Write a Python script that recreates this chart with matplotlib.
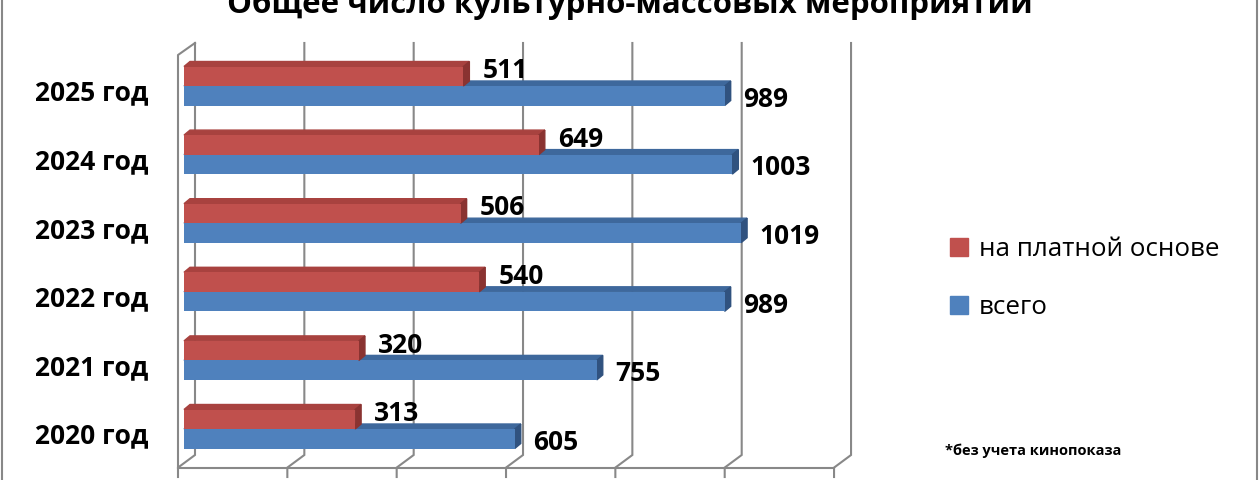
import matplotlib
matplotlib.use('Agg')
import matplotlib.pyplot as plt
from matplotlib.patches import Polygon
from matplotlib.lines import Line2D
from matplotlib.patches import Patch

plt.rcParams['font.family'] = ['Open Sans', 'DejaVu Sans']

# data
title = "Общее число культурно-массовых мероприятий"
years = ["2020 год", "2021 год", "2022 год", "2023 год", "2024 год", "2025 год"]
paid = [313, 320, 540, 506, 649, 511]
total = [605, 755, 989, 1019, 1003, 989]
series_names = ["на платной основе", "всего"]
grid_values = [0, 200, 400, 600, 800, 1000, 1200]
note = "*без учета кинопоказа"

red, red_top, red_side = '#C0504D', '#A8423F', '#8A3331'
blue, blue_top, blue_side = '#4F81BD', '#3E689C', '#30527F'
grid_col = '#888888'

W, H = 1260, 480
PX_X = 0.5467   # px per unit
PX_Y = 68.6     # px per category row

def ux(px):
    return px / PX_X

def uy(px):
    return px / PX_Y

fig = plt.figure(figsize=(W / 100, H / 100), dpi=100)
ax = fig.add_axes([160 / W, 0, 740 / W, 455 / H])
ax.set_xlim(ux(160 - 184), ux(900 - 184))
ax.set_ylim(uy(429 - 480), uy(429 - 25))
for s in ax.spines.values():
    s.set_visible(False)
ax.set_xticks([])
ax.set_yticks([])

ypos = list(range(len(years)))
h = uy(19.5)
dx, dy = ux(6), uy(5)

# back wall grid, floor, left wall
back_dx = ux(11)
back_bot, back_top = -uy(455 - 429), uy(429 - 43)
front_dx = ux(-6)
front_y = -uy(467.6 - 429)
tick_y = -uy(477 - 429)
for v in grid_values:
    ax.plot([v + back_dx, v + back_dx, v + front_dx, v + front_dx],
            [back_top, back_bot, front_y, tick_y], color=grid_col, lw=1.5,
            zorder=1, clip_on=False, solid_joinstyle='miter')
ax.plot([front_dx, grid_values[-1] + front_dx], [front_y, front_y], color=grid_col,
        lw=1.5, zorder=1, clip_on=False)
ax.plot([front_dx, front_dx, back_dx], [front_y, uy(429 - 55), back_top],
        color=grid_col, lw=1.5, zorder=1, clip_on=False)

blue_bars = ax.barh([y - h for y in ypos], total, height=h, align='edge',
                    color=blue, zorder=3, label=series_names[1])
red_bars = ax.barh(ypos, paid, height=h, align='edge', color=red, zorder=6,
                   label=series_names[0])


def faces(bars, top_col, side_col, z):
    for r in bars:
        x0, y0, w, hh = r.get_x(), r.get_y(), r.get_width(), r.get_height()
        y1 = y0 + hh
        ax.add_patch(Polygon([(x0, y1), (x0 + dx, y1 + dy), (x0 + w + dx, y1 + dy),
                              (x0 + w, y1)], closed=True, color=top_col, zorder=z))
        ax.add_patch(Polygon([(x0 + w, y0), (x0 + w, y1), (x0 + w + dx, y1 + dy),
                              (x0 + w + dx, y0 + dy)], closed=True, color=side_col, zorder=z))


faces(blue_bars, blue_top, blue_side, 2)
faces(red_bars, red_top, red_side, 5)

# value labels
for y, p, t in zip(ypos, paid, total):
    ax.text(p + ux(19), y + h / 2 - uy(2), str(p), fontsize=19, weight='bold',
            va='baseline', ha='left', zorder=8)
    ax.text(t + ux(18), y - h / 2 - uy(11), str(t), fontsize=19, weight='bold',
            va='baseline', ha='left', zorder=8)

# category labels
for y, name in zip(ypos, years):
    ax.text(ux(148 - 184), y - uy(14.7), name, fontsize=19, weight='bold',
            va='baseline', ha='right')

fig.text(0.5, 1 - 13 / H, title, ha='center', va='baseline', fontsize=22.5,
         weight='bold')

fig.legend(handles=[Patch(color=red), Patch(color=blue)], labels=series_names,
           loc='upper left', bbox_to_anchor=(950 / W, 1 - 237 / H), frameon=False,
           fontsize=18.7, handlelength=0.7, handleheight=0.7, handletextpad=0.4,
           labelspacing=1.28, borderpad=0, borderaxespad=0)

fig.text(945 / W, 1 - 451 / H, note, fontsize=10.5, weight='bold', va='center',
         ha='left')

for xb in (2, 1257):
    fig.add_artist(Line2D([xb / W, xb / W], [0, 1], color=grid_col, lw=1.5))

fig.savefig('out.png', dpi=100)
